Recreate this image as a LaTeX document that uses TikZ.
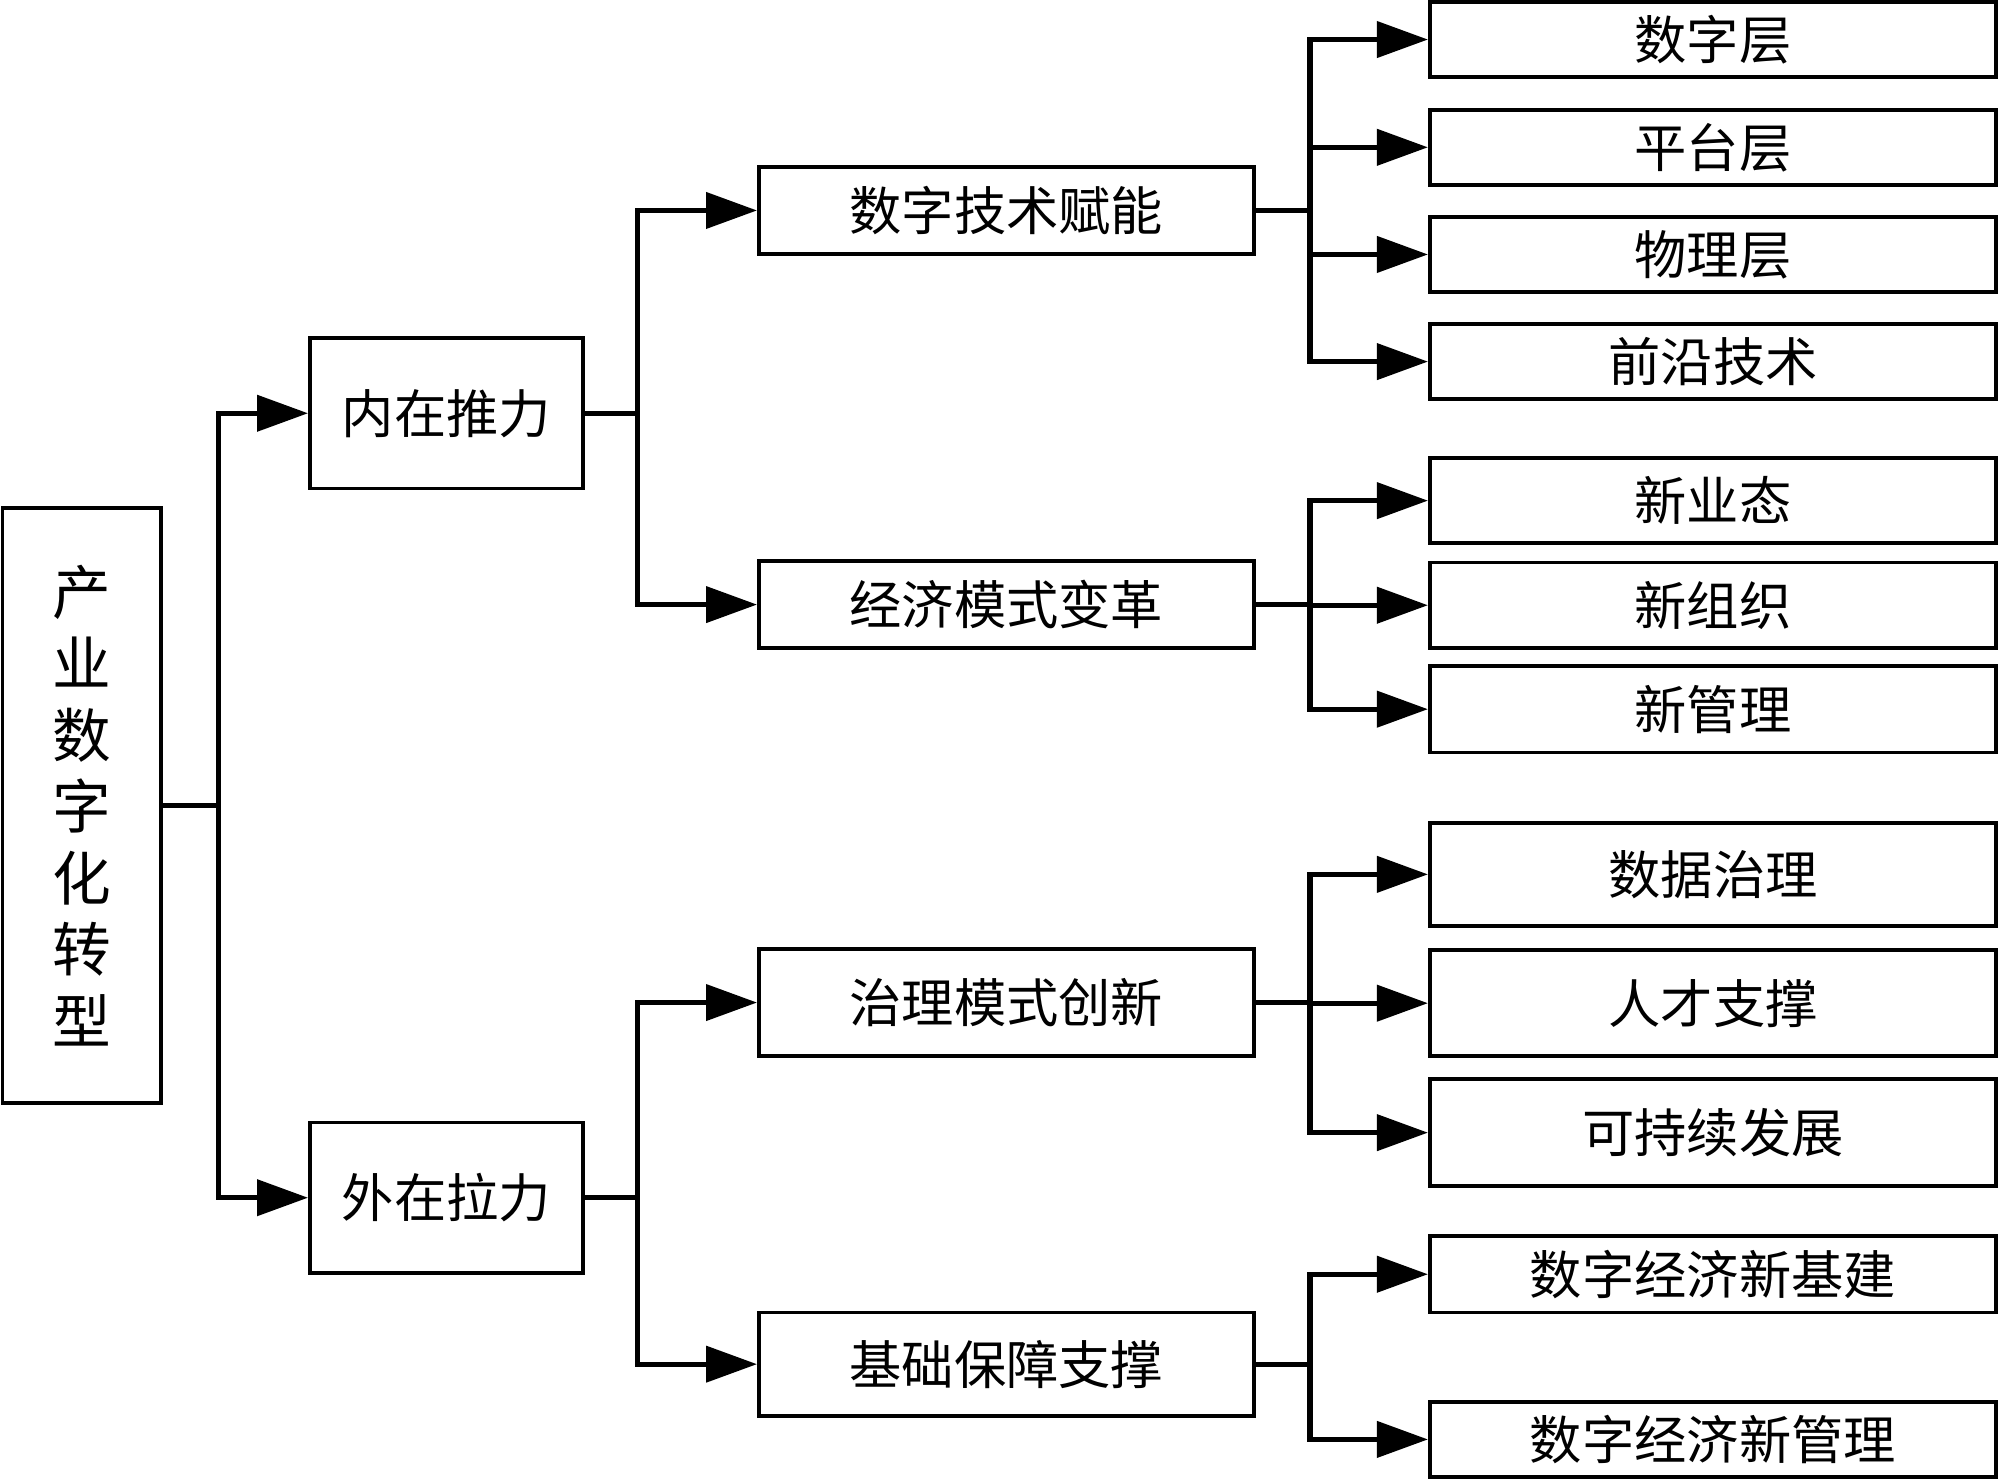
\documentclass[tikz,border=0pt]{standalone}
\usepackage{fontspec}
\newfontfamily\cjk{Noto Sans CJK SC}
\usetikzlibrary{arrows.meta}
\begin{document}
\begin{tikzpicture}[x=0.5pt,y=-0.5pt,
  box/.style={draw,line width=1.5pt,inner sep=0pt,font=\cjk\fontsize{20.5}{24}\selectfont},
  sz/.style 2 args={minimum width=#1*0.5pt,minimum height=#2*0.5pt},
  conn/.style={line width=2pt},
  arr/.style={conn,-{Triangle[length=20pt,width=14pt]}}]
\useasboundingbox (0,0) rectangle (1568,1160);
% root
\node[box,sz={124}{467},align=center,font=\cjk\fontsize{23}{28}\selectfont] (root) at (64,631.5) {产\\业\\数\\字\\化\\转\\型};
% level 1
\node[box,sz={214}{118}] (n1) at (350,324) {内在推力};
\node[box,sz={214}{118}] (n2) at (350,939) {外在拉力};
% level 2
\node[box,sz={388}{68}] (m1) at (789,165) {数字技术赋能};
\node[box,sz={388}{68}] (m2) at (789,474) {经济模式变革};
\node[box,sz={388}{84}] (m3) at (789,786) {治理模式创新};
\node[box,sz={388}{81}] (m4) at (789,1069.5) {基础保障支撑};
% level 3
\node[box,sz={444}{59}] (a1) at (1343,31) {数字层};
\node[box,sz={444}{59}] (a2) at (1343,115.5) {平台层};
\node[box,sz={444}{59}] (a3) at (1343,199.5) {物理层};
\node[box,sz={444}{59}] (a4) at (1343,283.5) {前沿技术};
\node[box,sz={444}{67}] (b1) at (1343,392.5) {新业态};
\node[box,sz={444}{67}] (b2) at (1343,474.5) {新组织};
\node[box,sz={444}{68}] (b3) at (1343,556) {新管理};
\node[box,sz={444}{81}] (c1) at (1343,685.5) {数据治理};
\node[box,sz={444}{83}] (c2) at (1343,786.5) {人才支撑};
\node[box,sz={444}{84}] (c3) at (1343,888) {可持续发展};
\node[box,sz={444}{60}] (d1) at (1343,999) {数字经济新基建};
\node[box,sz={444}{59}] (d2) at (1343,1128.5) {数字经济新管理};
% junctions
\coordinate (j0) at (171,631.5);
\coordinate (j1) at (500,324);
\coordinate (j2) at (500,939);
\coordinate (k1) at (1027,165);
\coordinate (k2) at (1027,474);
\coordinate (k3) at (1027,786);
\coordinate (k4) at (1027,1069.5);
% connectors
\draw[conn] (root.east) -- (j0);
\draw[arr] (j0) |- (n1.west);
\draw[arr] (j0) |- (n2.west);
\draw[conn] (n1.east) -- (j1);
\draw[arr] (j1) |- (m1.west);
\draw[arr] (j1) |- (m2.west);
\draw[conn] (n2.east) -- (j2);
\draw[arr] (j2) |- (m3.west);
\draw[arr] (j2) |- (m4.west);
\draw[conn] (m1.east) -- (k1);
\draw[arr] (k1) |- (a1.west);
\draw[arr] (k1) |- (a2.west);
\draw[arr] (k1) |- (a3.west);
\draw[arr] (k1) |- (a4.west);
\draw[conn] (m2.east) -- (k2);
\draw[arr] (k2) |- (b1.west);
\draw[arr] (k2) |- (b2.west);
\draw[arr] (k2) |- (b3.west);
\draw[conn] (m3.east) -- (k3);
\draw[arr] (k3) |- (c1.west);
\draw[arr] (k3) |- (c2.west);
\draw[arr] (k3) |- (c3.west);
\draw[conn] (m4.east) -- (k4);
\draw[arr] (k4) |- (d1.west);
\draw[arr] (k4) |- (d2.west);
\end{tikzpicture}
\end{document}
